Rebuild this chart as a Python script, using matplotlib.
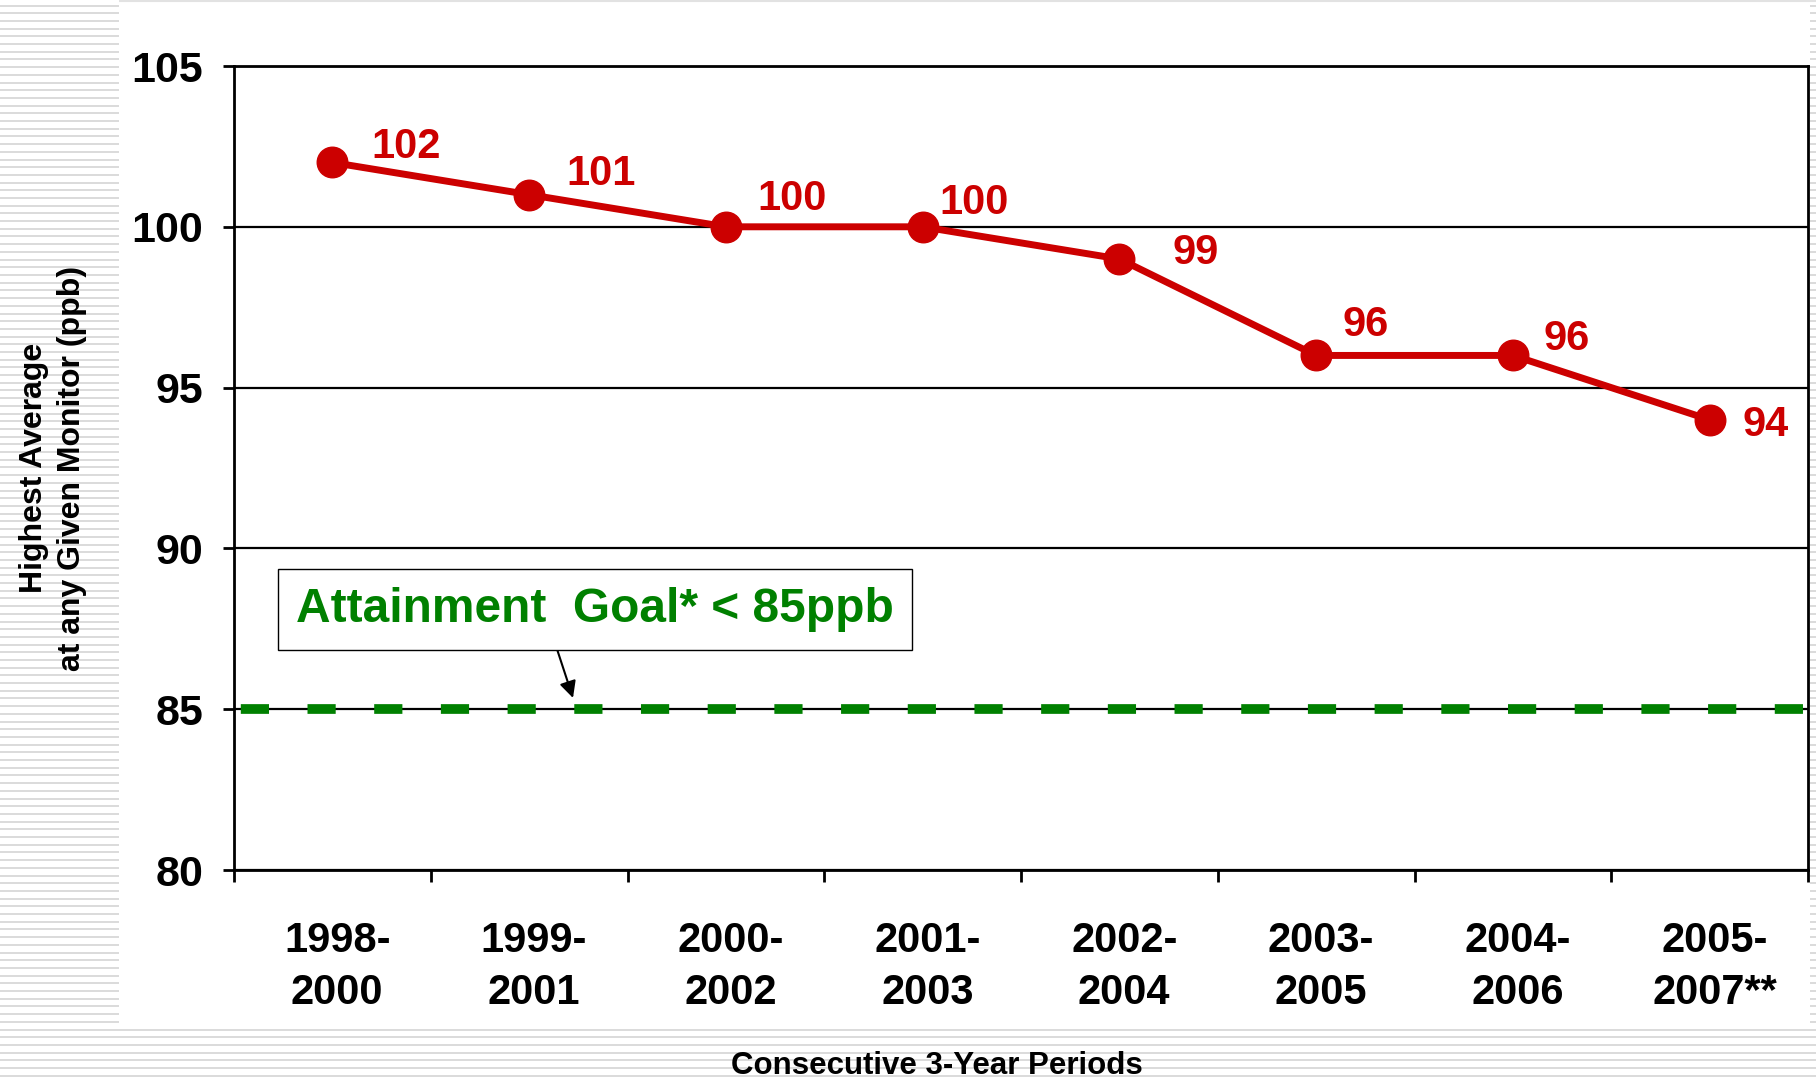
import matplotlib
matplotlib.use('Agg')
import matplotlib.pyplot as plt
import matplotlib.transforms as mtransforms
import numpy as np

# data
periods = ['1998-\n2000', '1999-\n2001', '2000-\n2002', '2001-\n2003',
           '2002-\n2004', '2003-\n2005', '2004-\n2006', '2005-\n2007**']
highest_avg = [102, 101, 100, 100, 99, 96, 96, 94]
attainment_goal = 85
y_ticks = [80, 85, 90, 95, 100, 105]

# where each value label sits relative to its point (points)
label_offsets = [(53, 11), (52, 15), (48, 20), (37, 17),
                 (55, 4), (36, 22), (39, 12), (40, -4)]

RED = '#CC0000'
GREEN = '#008000'

plt.rcParams['font.family'] = ['Liberation Sans', 'DejaVu Sans']
plt.rcParams['font.weight'] = 'bold'

W, H = 1816, 1078
fig = plt.figure(figsize=(W / 100, H / 100), dpi=100)

# striped slide background
bg = fig.add_axes([0, 0, 1, 1], zorder=-10)
bg.set_xlim(0, W)
bg.set_ylim(H, 0)
bg.axis('off')
stripe_y = np.arange(5.5, H, 7.7)
bg.hlines(stripe_y, 0, W, color='#dadada', lw=1.4, zorder=1)
bg.add_patch(plt.Rectangle((119, 3), 1810 - 119, 1026 - 3, facecolor='white',
                           edgecolor='none', zorder=3))
bg.hlines([1], 119, W, color='#e2e2e2', lw=1.5, zorder=4)

ax = fig.add_axes([234 / W, 1 - 870 / H, (1808 - 234) / W, (870 - 66) / H])
ax.set_facecolor('none')
x = np.arange(len(periods))

ax.set_xlim(-0.5, len(periods) - 0.5)
ax.set_ylim(80, 105)
ax.set_yticks(y_ticks)
ax.yaxis.grid(True, color='black', lw=1.6)
ax.set_axisbelow(True)

for s in ax.spines.values():
    s.set_linewidth(2.0)
    s.set_color('black')

ax.axhline(attainment_goal, color=GREEN, lw=7, linestyle=(-0.7, (2.9, 3.96)), zorder=2)

ax.plot(x, highest_avg, color=RED, lw=5, marker='o', markersize=22, zorder=3)

for xi, v, (dx, dy) in zip(x, highest_avg, label_offsets):
    ax.annotate(str(v), (xi, v), xytext=(dx, dy), textcoords='offset points',
                ha='center', va='center', color=RED, fontsize=30, fontweight='bold')

ax.set_xticks(x)
ax.set_xticklabels(periods, fontsize=30, fontweight='bold', linespacing=1.39)
ax.set_xticks(np.arange(-0.5, len(periods)), minor=True)
ax.tick_params(axis='x', which='major', length=0, pad=37)
ax.tick_params(axis='x', which='minor', length=8.5, width=2, direction='out')
ax.tick_params(axis='y', length=8, width=2, direction='out', pad=14, labelsize=31)
for lbl in ax.get_yticklabels():
    lbl.set_fontweight('bold')
# the slide's category labels sit a touch right of the points
nudge = mtransforms.ScaledTranslation(3.5 / 72, 0, fig.dpi_scale_trans)
for lbl in ax.get_xticklabels():
    lbl.set_transform(lbl.get_transform() + nudge)

ax.annotate('Attainment  Goal* < 85ppb', xy=(1.223, 85.35), xytext=(1.335, 88.1),
            ha='center', va='center', color=GREEN, fontsize=34.5, fontweight='bold',
            bbox=dict(boxstyle='square,pad=0.38', facecolor='white',
                      edgecolor='black', lw=1.0),
            arrowprops=dict(arrowstyle='-|>', color='black', lw=1.5,
                            mutation_scale=25, relpos=(0.427, 0), shrinkA=0, shrinkB=0),
            zorder=5)

fig.text(53 / W, 1 - 468 / H, 'Highest Average\nat any Given Monitor (ppb)',
         rotation=90, ha='center', va='center', fontsize=23, fontweight='bold',
         multialignment='center', linespacing=1.33)
fig.text(937 / W, 1 - 1074 / H, 'Consecutive 3-Year Periods',
         ha='center', va='baseline', fontsize=22.5, fontweight='bold')

fig.savefig('out.png', dpi=100)
